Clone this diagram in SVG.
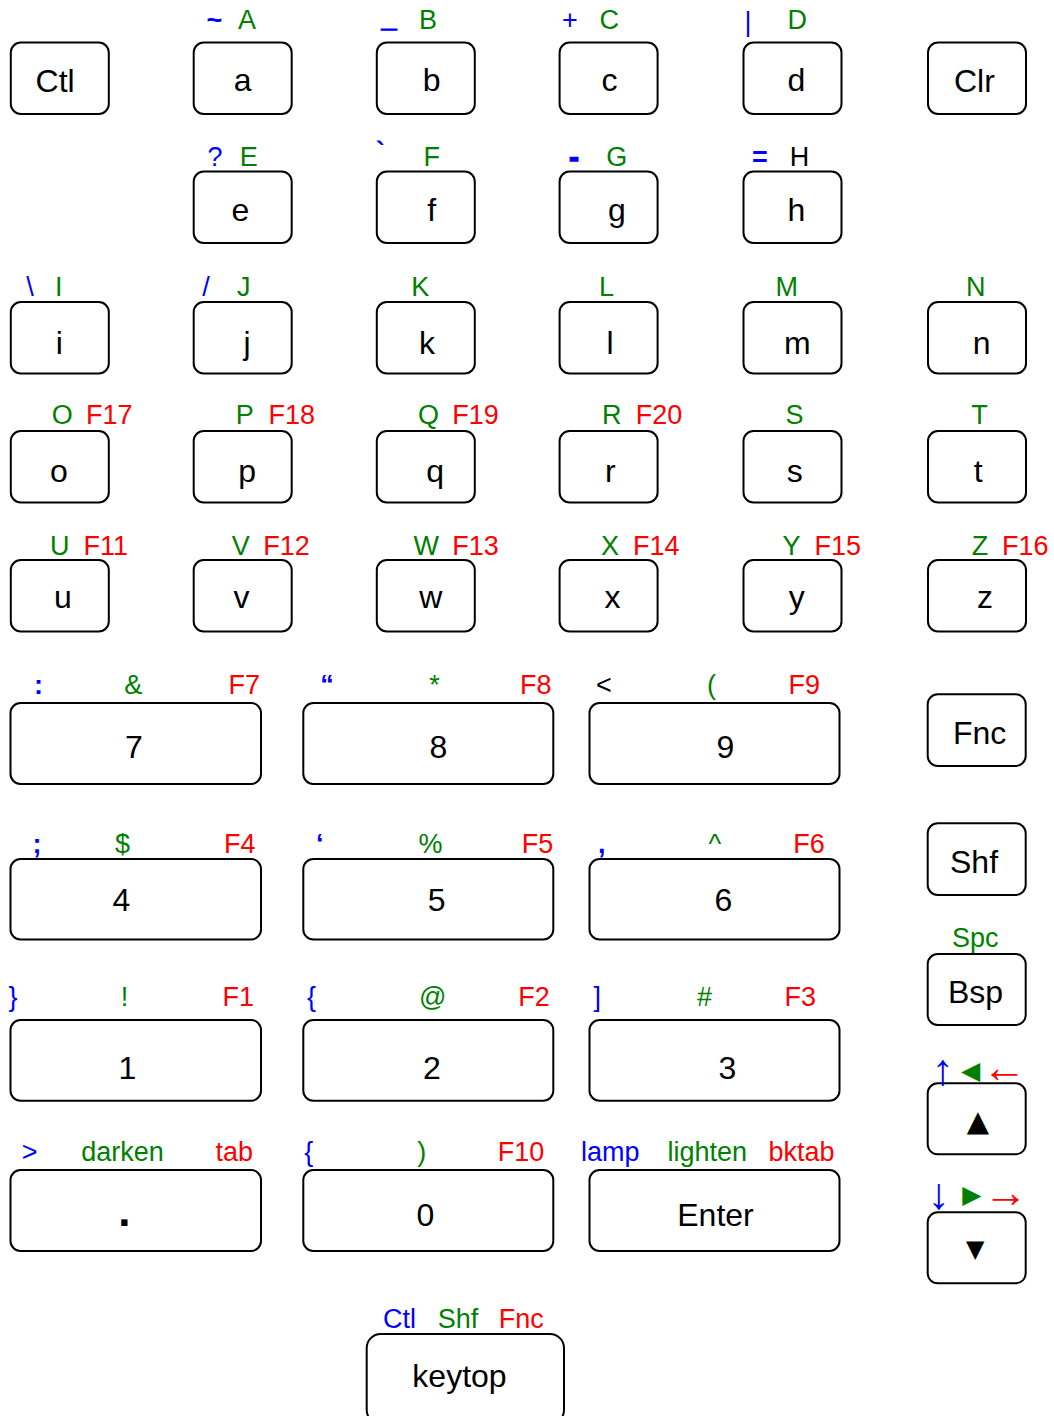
<svg xmlns="http://www.w3.org/2000/svg" width="1054" height="1416" viewBox="0 0 1054 1416">
<style>
rect{fill:#fff;stroke:#000;stroke-width:2}
text{font-family:"Liberation Sans",Arial,sans-serif}
.t{font-size:32px;text-anchor:middle;fill:#000}
.l{font-size:27px;text-anchor:middle}
.s{font-size:27px;text-anchor:start}
.bl{fill:#0000ff}
.gr{fill:#008000}
.rd{fill:#ff0000}
.bk{fill:#000}
.bo{font-weight:bold}
.th{stroke:#0000ff;stroke-width:1.3}
.ar{font-size:44px;text-anchor:middle}
.tri{font-family:"DejaVu Sans",sans-serif;font-size:25px;text-anchor:middle}
</style>
<rect x="0" y="0" width="1054" height="1416" style="stroke:none"/>
<g id="connectors"/>
<!-- row 1 -->
<g id="key-ctl"><rect x="10.8" y="42.5" width="98" height="71.5" rx="10"/><text class="t" x="55.1" y="91.5">Ctl</text></g>
<g id="key-a"><rect x="193.7" y="42.5" width="98" height="71.5" rx="10"/><text class="t" x="242.7" y="90.7">a</text>
<text class="l bl bo" x="214.3" y="29">~</text><text class="l gr" x="247.1" y="29">A</text></g>
<g id="key-b"><rect x="376.8" y="42.5" width="98" height="71.5" rx="10"/><text class="t" x="431.6" y="90.7">b</text>
<text class="l bl bo th" x="388.9" y="26.5">_</text><text class="l gr" x="428.1" y="29">B</text></g>
<g id="key-c"><rect x="559.6" y="42.5" width="98" height="71.5" rx="10"/><text class="t" x="609.4" y="90.7">c</text>
<text class="l bl" x="569.9" y="29">+</text><text class="l gr" x="609.2" y="29">C</text></g>
<g id="key-d"><rect x="743.5" y="42.5" width="98" height="71.5" rx="10"/><text class="t" x="796.5" y="90.7">d</text>
<text class="l bl" x="747.9" y="31">|</text><text class="l gr" x="797.2" y="29">D</text></g>
<g id="key-clr"><rect x="928" y="42.5" width="98" height="71.5" rx="10"/><text class="t" x="974.4" y="91.5">Clr</text></g>
<!-- row 2 -->
<g id="key-e"><rect x="193.7" y="171.5" width="98" height="71.5" rx="10"/><text class="t" x="240.3" y="221">e</text>
<text class="l bl" x="215.1" y="165.7">?</text><text class="l gr" x="248.7" y="165.7">E</text></g>
<g id="key-f"><rect x="376.8" y="171.5" width="98" height="71.5" rx="10"/><text class="t" x="431.7" y="221">f</text>
<text class="l bl bo" x="380.2" y="161">`</text><text class="l gr" x="431.8" y="165.7">F</text></g>
<g id="key-g"><rect x="559.6" y="171.5" width="98" height="71.5" rx="10"/><text class="t" x="616.9" y="221">g</text>
<text class="l bl bo th" style="font-size:30px" x="573.9" y="166.5">-</text><text class="l gr" x="616.8" y="165.7">G</text></g>
<g id="key-h"><rect x="743.5" y="171.5" width="98" height="71.5" rx="10"/><text class="t" x="796.4" y="221">h</text>
<text class="l bl bo" x="759.8" y="165.7">=</text><text class="l bk" x="799.5" y="165.7">H</text></g>
<!-- row 3 -->
<g id="key-i"><rect x="10.8" y="302" width="98" height="71.5" rx="10"/><text class="t" x="59.3" y="354.3">i</text>
<text class="l bl" x="29.9" y="295.7">\</text><text class="l gr" x="58.8" y="295.7">I</text></g>
<g id="key-j"><rect x="193.7" y="302" width="98" height="71.5" rx="10"/><text class="t" x="247" y="354.3">j</text>
<text class="l bl" x="206" y="295.7">/</text><text class="l gr" x="243.7" y="295.7">J</text></g>
<g id="key-k"><rect x="376.8" y="302" width="98" height="71.5" rx="10"/><text class="t" x="427.1" y="354.3">k</text>
<text class="l gr" x="420.2" y="295.7">K</text></g>
<g id="key-l"><rect x="559.6" y="302" width="98" height="71.5" rx="10"/><text class="t" x="610" y="354.3">l</text>
<text class="l gr" x="606.5" y="295.7">L</text></g>
<g id="key-m"><rect x="743.5" y="302" width="98" height="71.5" rx="10"/><text class="t" x="797.3" y="354.3">m</text>
<text class="l gr" x="786.7" y="295.7">M</text></g>
<g id="key-n"><rect x="928" y="302" width="98" height="71.5" rx="10"/><text class="t" x="981.6" y="354.3">n</text>
<text class="l gr" x="975.7" y="295.7">N</text></g>
<!-- row 4 -->
<g id="key-o"><rect x="10.8" y="431" width="98" height="71.5" rx="10"/><text class="t" x="58.8" y="481.7">o</text>
<text class="l gr" x="62.2" y="424">O</text><text class="s rd" x="85.9" y="424">F17</text></g>
<g id="key-p"><rect x="193.7" y="431" width="98" height="71.5" rx="10"/><text class="t" x="247.1" y="481.7">p</text>
<text class="l gr" x="244.7" y="424">P</text><text class="s rd" x="268.4" y="424">F18</text></g>
<g id="key-q"><rect x="376.8" y="431" width="98" height="71.5" rx="10"/><text class="t" x="435.1" y="481.7">q</text>
<text class="l gr" x="428.4" y="424">Q</text><text class="s rd" x="452.3" y="424">F19</text></g>
<g id="key-r"><rect x="559.6" y="431" width="98" height="71.5" rx="10"/><text class="t" x="610.3" y="481.7">r</text>
<text class="l gr" x="611.8" y="424">R</text><text class="s rd" x="635.7" y="424">F20</text></g>
<g id="key-s"><rect x="743.5" y="431" width="98" height="71.5" rx="10"/><text class="t" x="794.7" y="481.7">s</text>
<text class="l gr" x="794.6" y="424">S</text></g>
<g id="key-t"><rect x="928" y="431" width="98" height="71.5" rx="10"/><text class="t" x="978.2" y="481.7">t</text>
<text class="l gr" x="979.4" y="424">T</text></g>
<!-- row 5 -->
<g id="key-u"><rect x="10.8" y="560" width="98" height="71.5" rx="10"/><text class="t" x="63" y="607.7">u</text>
<text class="l gr" x="59.8" y="555">U</text><text class="s rd" x="83.5" y="555">F11</text></g>
<g id="key-v"><rect x="193.7" y="560" width="98" height="71.5" rx="10"/><text class="t" x="241.5" y="607.7">v</text>
<text class="l gr" x="240.7" y="555">V</text><text class="s rd" x="263.3" y="555">F12</text></g>
<g id="key-w"><rect x="376.8" y="560" width="98" height="71.5" rx="10"/><text class="t" x="430.8" y="607.7">w</text>
<text class="l gr" x="426.2" y="555">W</text><text class="s rd" x="452.3" y="555">F13</text></g>
<g id="key-x"><rect x="559.6" y="560" width="98" height="71.5" rx="10"/><text class="t" x="612.4" y="607.7">x</text>
<text class="l gr" x="610" y="555">X</text><text class="s rd" x="633" y="555">F14</text></g>
<g id="key-y"><rect x="743.5" y="560" width="98" height="71.5" rx="10"/><text class="t" x="796.7" y="607.7">y</text>
<text class="l gr" x="791.5" y="555">Y</text><text class="s rd" x="814.5" y="555">F15</text></g>
<g id="key-z"><rect x="928" y="560" width="98" height="71.5" rx="10"/><text class="t" x="985" y="607.7">z</text>
<text class="l gr" x="980" y="555">Z</text><text class="s rd" x="1002.1" y="555">F16</text></g>
<!-- numpad row 7 -->
<g id="key-7"><rect x="10.5" y="703" width="250.5" height="81" rx="10"/><text class="t" x="134" y="758.3">7</text>
<text class="l bl bo" x="38.4" y="694.3">:</text><text class="l gr" x="133.3" y="694.3">&amp;</text><text class="s rd" x="228.5" y="694.3">F7</text></g>
<g id="key-8"><rect x="303.3" y="703" width="250" height="81" rx="10"/><text class="t" x="438.4" y="758.3">8</text>
<text class="l bl bo" x="327" y="694.3">“</text><text class="l gr" x="434.6" y="694.3">*</text><text class="s rd" x="520" y="694.3">F8</text></g>
<g id="key-9"><rect x="589.5" y="703" width="250" height="81" rx="10"/><text class="t" x="725.3" y="757.7">9</text>
<text class="l bk" x="604" y="694.3">&lt;</text><text class="l gr" x="711.4" y="694.3">(</text><text class="s rd" x="788.5" y="694.3">F9</text></g>
<!-- numpad row 4 -->
<g id="key-4"><rect x="10.5" y="859" width="250.5" height="80.5" rx="10"/><text class="t" x="121.5" y="910.7">4</text>
<text class="l bl bo" x="37" y="852.5">;</text><text class="l gr" x="122.6" y="852.5">$</text><text class="s rd" x="224" y="852.5">F4</text></g>
<g id="key-5"><rect x="303.3" y="859" width="250" height="80.5" rx="10"/><text class="t" x="436.7" y="910.7">5</text>
<text class="l bl bo" x="319.8" y="852.5">‘</text><text class="l gr" x="430.6" y="852.5">%</text><text class="s rd" x="521.7" y="852.5">F5</text></g>
<g id="key-6"><rect x="589.5" y="859" width="250" height="80.5" rx="10"/><text class="t" x="723.5" y="910.7">6</text>
<text class="l bl bo" x="601.8" y="852.5">,</text><text class="l gr" x="714.8" y="852.5">^</text><text class="s rd" x="793.2" y="852.5">F6</text></g>
<!-- numpad row 1 -->
<g id="key-1"><rect x="10.5" y="1020" width="250.5" height="80.7" rx="10"/><text class="t" x="127.5" y="1079">1</text>
<text class="l bl" x="13" y="1005.7">}</text><text class="l gr" x="124.5" y="1005.7">!</text><text class="s rd" x="222.6" y="1005.7">F1</text></g>
<g id="key-2"><rect x="303.3" y="1020" width="250" height="80.7" rx="10"/><text class="t" x="432" y="1079">2</text>
<text class="l bl" x="311.5" y="1005.7">{</text><text class="l gr" x="432.6" y="1005.7">@</text><text class="s rd" x="518.2" y="1005.7">F2</text></g>
<g id="key-3"><rect x="589.5" y="1020" width="250" height="80.7" rx="10"/><text class="t" x="727.5" y="1079">3</text>
<text class="l bl" x="597.3" y="1005.7">]</text><text class="l gr" x="704.5" y="1005.7">#</text><text class="s rd" x="784.5" y="1005.7">F3</text></g>
<!-- numpad row 0 -->
<g id="key-dot"><rect x="10.5" y="1170" width="250.5" height="81" rx="10"/><text class="t bo" style="font-size:44px" x="124.4" y="1226">.</text>
<text class="l bl" x="29.7" y="1160.7">&gt;</text><text class="s gr" x="81.2" y="1160.7">darken</text><text class="s rd" x="215.5" y="1160.7">tab</text></g>
<g id="key-0"><rect x="303.3" y="1170" width="250" height="81" rx="10"/><text class="t" x="425.5" y="1225.7">0</text>
<text class="l bl" x="308.7" y="1160.7">{</text><text class="l gr" x="421.7" y="1160.7">)</text><text class="s rd" x="497.8" y="1160.7">F10</text></g>
<g id="key-enter"><rect x="589.5" y="1170" width="250" height="81" rx="10"/><text class="t" x="715.5" y="1225.7">Enter</text>
<text class="s bl" x="580.9" y="1160.7">lamp</text><text class="s gr" x="667.5" y="1160.7">lighten</text><text class="s rd" x="768.4" y="1160.7">bktab</text></g>
<!-- right column -->
<g id="key-fnc"><rect x="927.7" y="694.3" width="98" height="71.7" rx="10"/><text class="t" x="979.7" y="744.3">Fnc</text></g>
<g id="key-shf"><rect x="927.7" y="823.3" width="98" height="71.7" rx="10"/><text class="t" x="974" y="873.3">Shf</text></g>
<g id="key-bsp"><rect x="927.7" y="954" width="98" height="71" rx="10"/><text class="t" x="975.5" y="1003.3">Bsp</text>
<text class="l gr" x="975.2" y="946.7">Spc</text></g>
<g id="key-up"><rect x="927.7" y="1083.3" width="98" height="71" rx="10"/><text class="tri" style="font-size:29px;fill:#000" x="977.8" y="1131">▲</text>
<text class="ar bl" x="942.7" y="1085">↑</text><text class="tri gr" x="970.5" y="1079">◀</text><text class="ar rd" x="1004.2" y="1082">←</text></g>
<g id="key-down"><rect x="927.7" y="1212.3" width="98" height="71" rx="10"/><text class="tri" style="font-size:24px;fill:#000" x="975.2" y="1257">▼</text>
<text class="ar bl" x="938.8" y="1209">↓</text><text class="tri gr" x="971.8" y="1203">▶</text><text class="ar rd" x="1005.8" y="1207">→</text></g>
<!-- legend -->
<g id="key-keytop"><rect x="366.7" y="1334" width="197.3" height="90" rx="14"/><text class="t" x="459.5" y="1386.7">keytop</text>
<text class="s bl" x="383" y="1328.3">Ctl</text><text class="s gr" x="437.8" y="1328.3">Shf</text><text class="s rd" x="498.8" y="1328.3">Fnc</text></g>
</svg>
